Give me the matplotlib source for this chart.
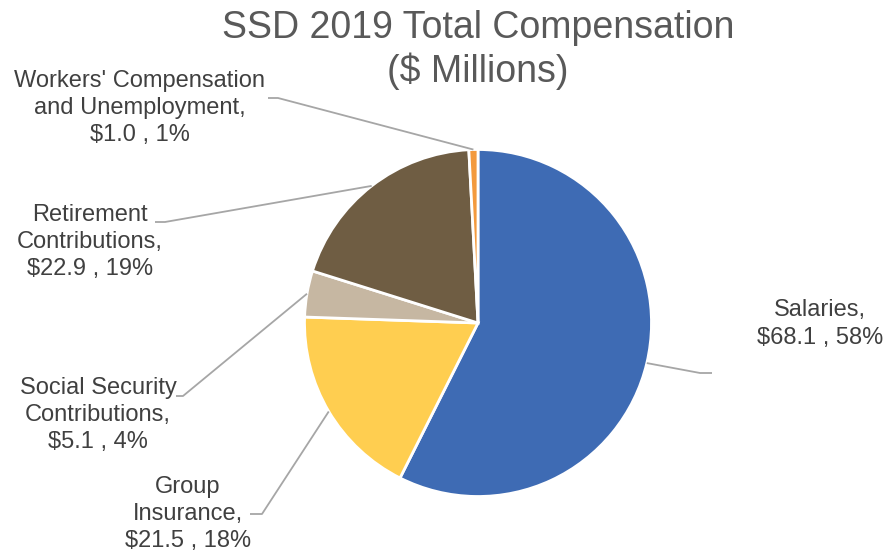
import numpy as np
import matplotlib.pyplot as plt

plt.rcParams['font.family'] = ['Liberation Sans', 'DejaVu Sans']

# SSD 2019 total compensation, $ millions
categories = ["Salaries", "Group\nInsurance", "Social Security\nContributions",
              "Retirement\nContributions", "Workers' Compensation\nand Unemployment"]
amounts = [68.1, 21.5, 5.1, 22.9, 1.0]
percents = [58, 18, 4, 19, 1]
colors = ["#3E6BB4", "#FFCE50", "#C6B7A2", "#6F5D43", "#F39A3E"]

# label centres and leader-line elbows / ends (figure pixels, y from top)
label_xy = [(820, 324), (188, 514), (98, 415), (90, 242), (140, 108)]
elbow_xy = [(700, 373), (262, 514), (183, 396), (165, 222), (278, 98)]
end_xy = [(712, 373), (250, 514), (176, 396), (155, 222), (268, 98)]

W, H = 887, 554
CX, CY, R = 478, 323, 173.5

fig = plt.figure(figsize=(W / 100, H / 100), dpi=100)
ax = fig.add_axes([0, 0, 1, 1])

wedges, _ = ax.pie(amounts, colors=colors, startangle=90, counterclock=False,
                   center=(CX, H - CY), radius=R,
                   wedgeprops=dict(edgecolor="white", linewidth=2))

for w, name, amt, pct, lab, elb, end in zip(wedges, categories, amounts, percents,
                                            label_xy, elbow_xy, end_xy):
    mid = np.deg2rad((w.theta1 + w.theta2) / 2)
    sx = CX + R * np.cos(mid)
    sy = (H - CY) + R * np.sin(mid)
    ax.plot([sx, elb[0], end[0]], [sy, H - elb[1], H - end[1]],
            color="#A6A6A6", lw=1.3, solid_capstyle="butt", zorder=1)
    ax.text(lab[0], H - lab[1], f"{name},\n${amt:.1f} , {pct}%",
            ha="center", va="center", multialignment="center",
            fontsize=17, color="#404040", linespacing=1.3, zorder=3)

ax.text(478, H - 50, "SSD 2019 Total Compensation\n($ Millions)",
        ha="center", va="center", fontsize=27, color="#595959", linespacing=1.2)

ax.set_xlim(0, W)
ax.set_ylim(0, H)
ax.set_aspect("equal")
ax.axis("off")

fig.savefig("out.png", dpi=100, facecolor="white")
